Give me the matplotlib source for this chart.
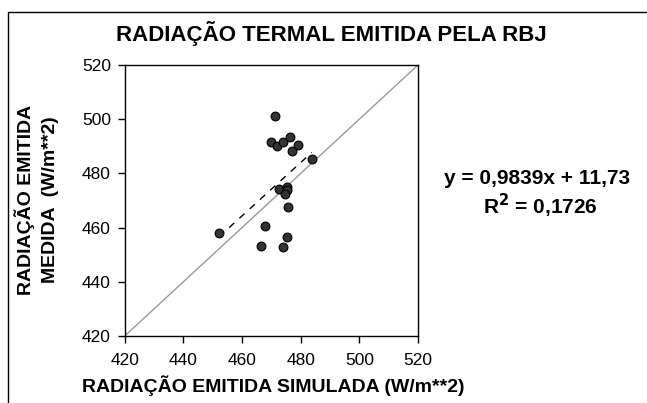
import numpy as np
import matplotlib
matplotlib.use("Agg")
import matplotlib.pyplot as plt
from matplotlib.patches import Rectangle

plt.rcParams['font.family'] = ['Liberation Sans', 'DejaVu Sans']

# simulated (x) vs measured (y) emitted radiation, W/m**2
simulada = [471.3, 469.8, 471.9, 474.1, 476.2, 479.0, 476.9, 483.8, 472.7,
            475.2, 475.3, 474.7, 475.6, 467.9, 452.1, 466.5, 475.3, 473.9]
medida = [501.3, 491.7, 490.0, 491.7, 493.3, 490.6, 488.4, 485.3, 474.2,
          475.1, 473.9, 472.4, 467.7, 460.7, 458.1, 453.3, 456.5, 452.7]
slope = 0.9839
intercept = 11.73
r2 = 0.1726
ticks = [420, 440, 460, 480, 500, 520]

W, H = 647, 403
fig = plt.figure(figsize=(W / 100, H / 100), dpi=100)
ax = fig.add_axes([124.7 / W, 1 - 336 / H, (418 - 124.7) / W, (336 - 65) / H])

# 1:1 line
ax.plot([420, 520], [420, 520], color='#999999', lw=1, zorder=1)

# trend line
xs = np.array([min(simulada), max(simulada)])
ax.plot(xs, slope * xs + intercept, color='black', lw=1, ls=(0, (5, 5)), zorder=2)

ax.scatter(simulada, medida, s=40, c='#333333', edgecolors='black', linewidths=0.8, zorder=3)

ax.set_xlim(420, 520)
ax.set_ylim(420, 520)
ax.set_xticks(ticks)
ax.set_yticks(ticks)
ax.tick_params(direction='out', length=5, width=1, labelsize=12.5, pad=5)
ax.tick_params(axis='x', pad=7)
for s in ax.spines.values():
    s.set_color('black')
    s.set_linewidth(1)

def fx(px):
    return px / W

def fy(px):
    return 1 - px / H

fig.text(fx(331), fy(33), 'RADIAÇÃO TERMAL EMITIDA PELA RBJ', ha='center', va='center',
         fontsize=16, fontweight='bold')
fig.text(fx(273), fy(386), 'RADIAÇÃO EMITIDA SIMULADA (W/m**2)', ha='center', va='center',
         fontsize=14, fontweight='bold')
fig.text(fx(25), fy(200), 'RADIAÇÃO EMITIDA', ha='center', va='center', rotation=90,
         fontsize=14, fontweight='bold')
fig.text(fx(51), fy(200), 'MEDIDA  (W/m**2)', ha='center', va='center', rotation=90,
         fontsize=14, fontweight='bold')

fig.text(fx(537), fy(179), 'y = 0,9839x + 11,73', ha='center', va='center', fontsize=15, fontweight='bold')
fig.text(fx(540), fy(206), r'R$^\mathbf{2}$ = 0,1726', ha='center', va='center', fontsize=15, fontweight='bold')

# outer chart frame
fig.patches.append(Rectangle((fx(7.5), -0.1), 1.1, 0.1 + fy(12), transform=fig.transFigure,
                             fill=False, edgecolor='black', lw=1))

fig.savefig('out.png', dpi=100)
